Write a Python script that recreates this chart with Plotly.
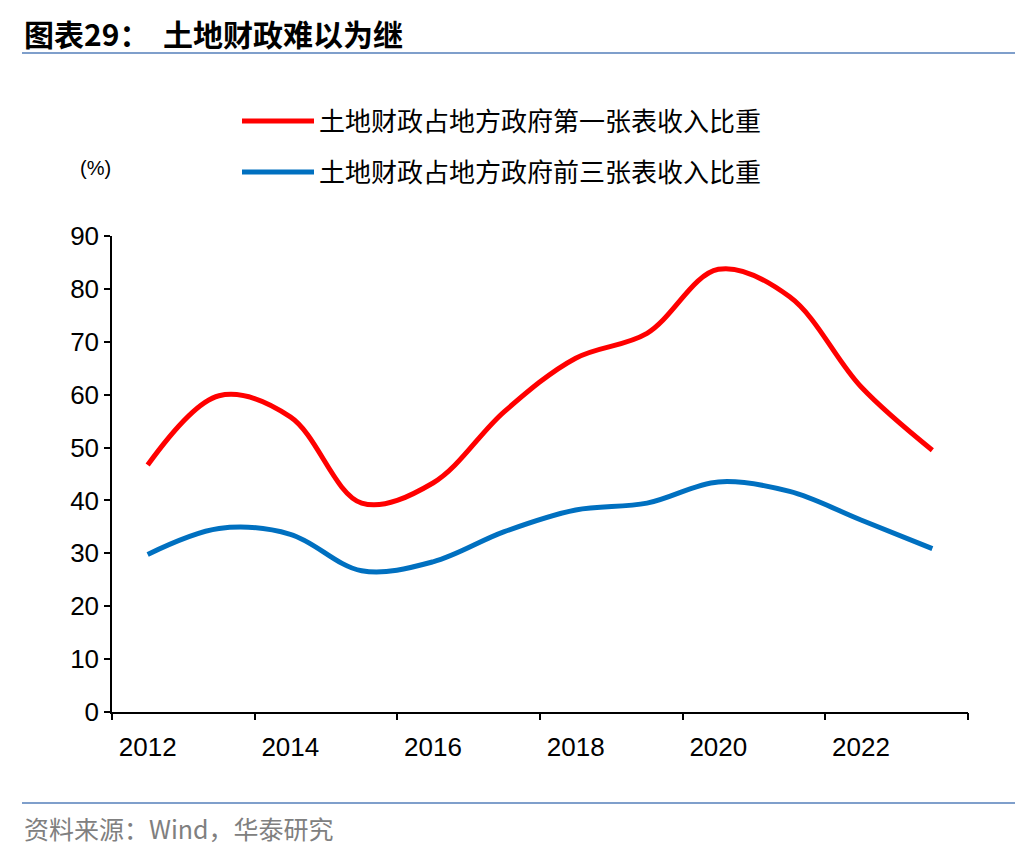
import plotly.graph_objects as go

years = [2012, 2013, 2014, 2015, 2016, 2017, 2018, 2019, 2020, 2021, 2022, 2023]
first_book = [46.7, 59.8, 55.8, 39.5, 43.3, 56.8, 66.9, 71.6, 83.7, 78.5, 61.5, 49.5]
three_books = [29.8, 34.7, 33.6, 26.7, 28.4, 34.1, 38.2, 39.5, 43.5, 41.7, 36.3, 30.9]
series_names = ["土地财政占地方政府第一张表收入比重", "土地财政占地方政府前三张表收入比重"]
x_labels = ["2012", "2014", "2016", "2018", "2020", "2022"]
x_label_vals = [2012, 2014, 2016, 2018, 2020, 2022]
x_tick_vals = [2011.5, 2013.5, 2015.5, 2017.5, 2019.5, 2021.5, 2023.5]
y_ticks = [0, 10, 20, 30, 40, 50, 60, 70, 80, 90]

CJK = "Noto Sans CJK SC"
LAT = "Liberation Sans, Arial"

# page offset compensation (browser body margin)
OX, OY = 8, 8
L, R, T, B = 112, 968, 236, 712  # plot area in reference pixels
PW, PH = R - L, B - T


def px(x):
    return (x - L) / PW


def py(y):
    return (B - y) / PH


fig = go.Figure()
fig.add_trace(go.Scatter(x=years, y=first_book, name=series_names[0], mode="lines",
                         line=dict(color="#FF0000", width=5, shape="spline", smoothing=1.0),
                         legend="legend"))
fig.add_trace(go.Scatter(x=years, y=three_books, name=series_names[1], mode="lines",
                         line=dict(color="#0070C0", width=5, shape="spline", smoothing=1.0),
                         legend="legend2"))
fig.add_trace(go.Scatter(x=[2012], y=[None], xaxis="x2", showlegend=False, hoverinfo="skip"))

legend_common = dict(xanchor="left", yanchor="middle",
                     font=dict(family=CJK, size=26, color="black"),
                     itemwidth=72, bgcolor="rgba(0,0,0,0)")

fig.update_layout(
    width=1036, height=852,
    margin=dict(l=L - OX, r=1036 - R + OX, t=T - OY, b=852 - B + OY),
    paper_bgcolor="white", plot_bgcolor="white",
    showlegend=True,
    legend=dict(x=px(237), y=py(121), **legend_common),
    legend2=dict(x=px(237), y=py(172), **legend_common),
    xaxis=dict(range=[2011.5, 2023.5], tickvals=x_label_vals, ticktext=x_labels,
               ticks="outside", ticklen=11, tickcolor="rgba(0,0,0,0)",
               showline=True, linecolor="black", linewidth=1.5,
               showgrid=False, zeroline=False,
               tickfont=dict(family=LAT, size=26, color="black")),
    xaxis2=dict(range=[2011.5, 2023.5], overlaying="x", anchor="y", side="bottom",
                tickvals=x_tick_vals, showticklabels=False, ticks="outside", ticklen=7,
                tickwidth=1.5, tickcolor="black", showline=False, showgrid=False, zeroline=False),
    yaxis=dict(range=[0, 90], tickvals=y_ticks, ticks="outside", ticklen=6, tickwidth=1.5,
               tickcolor="black", showline=True, linecolor="black", linewidth=1.5,
               showgrid=False, zeroline=False,
               tickfont=dict(family=LAT, size=26, color="black")),
)

fig.add_annotation(text="<b>图表29：  土地财政难以为继</b>", xref="paper", yref="paper",
                   x=px(22), y=py(33), xanchor="left", yanchor="middle", showarrow=False,
                   font=dict(family=CJK, size=30, color="black"))
fig.add_annotation(text="(%)", xref="paper", yref="paper",
                   x=px(95), y=py(168), xanchor="center", yanchor="middle",
                   showarrow=False, font=dict(family=LAT, size=20, color="black"))
fig.add_annotation(text="资料来源：Wind，华泰研究", xref="paper", yref="paper",
                   x=px(22), y=py(828), xanchor="left", yanchor="middle",
                   showarrow=False, font=dict(family=CJK, size=25, color="#808080"))
for yline in (53, 803):
    fig.add_shape(type="line", xref="paper", yref="paper",
                  x0=px(22), x1=px(1015), y0=py(yline), y1=py(yline),
                  line=dict(color="#7F9FCB", width=2))

fig.write_html("out.html")
